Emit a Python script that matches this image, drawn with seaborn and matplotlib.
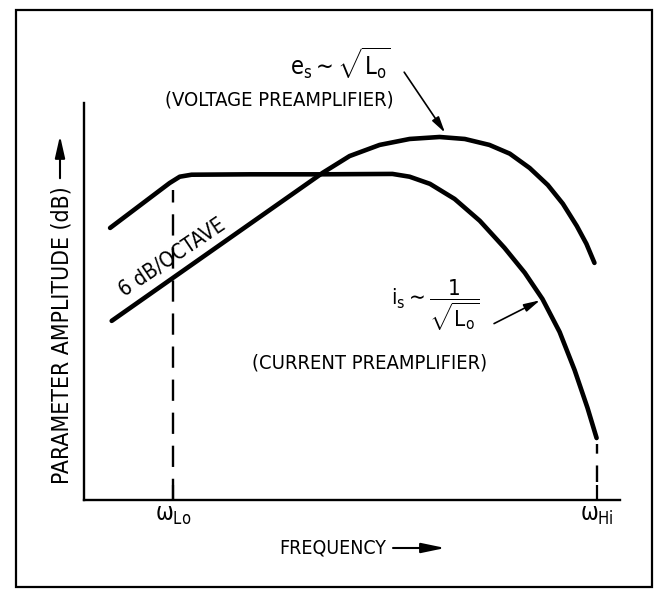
import numpy as np
import pandas as pd
import seaborn as sns
import matplotlib.pyplot as plt
from matplotlib.patches import Rectangle

# values (arbitrary frequency / dB units)
freq_current = [0.49, 1.60, 1.79, 2.01, 3.10, 4.40, 5.76, 6.08, 6.46, 6.92, 7.39, 7.85, 8.23,
                8.56, 8.88, 9.16, 9.40, 9.57]
amp_current = [6.85, 7.98, 8.14, 8.19, 8.20, 8.20, 8.21, 8.14, 7.96, 7.58, 7.03, 6.35, 5.72,
               5.06, 4.23, 3.27, 2.32, 1.56]

freq_voltage = [0.52, 4.46, 4.96, 5.52, 6.08, 6.64, 7.11, 7.57, 7.95, 8.32, 8.66, 8.94, 9.20, 9.38, 9.53]
amp_voltage = [4.51, 8.24, 8.66, 8.94, 9.09, 9.14, 9.09, 8.94, 8.72, 8.36, 7.93, 7.46, 6.90, 6.45, 5.97]

w_lo = 1.66
w_hi = 9.57
tick_pos = [w_lo, w_hi]
tick_labels = [r'$\omega_{\mathrm{Lo}}$', r'$\omega_{\mathrm{Hi}}$']

df = pd.concat([
    pd.DataFrame({'freq': freq_current, 'amp': amp_current, 'pre': 'current'}),
    pd.DataFrame({'freq': freq_voltage, 'amp': amp_voltage, 'pre': 'voltage'}),
])

sns.set_theme(style='white')
plt.rcParams['font.family'] = ['DejaVu Sans']
plt.rcParams['font.stretch'] = 'condensed'
plt.rcParams['text.color'] = 'black'
plt.rcParams['mathtext.fontset'] = 'custom'
plt.rcParams['mathtext.rm'] = 'DejaVu Sans'
plt.rcParams['mathtext.it'] = 'DejaVu Sans'
plt.rcParams['mathtext.bf'] = 'DejaVu Sans'
fs = 14.5

fig = plt.figure(figsize=(6.55, 5.91), dpi=100)
ax = fig.add_axes([0.128, 0.154, 0.818, 0.672])

sns.lineplot(data=df, x='freq', y='amp', units='pre', estimator=None, sort=False,
             color='black', lw=3.3, ax=ax, legend=False)
for l in ax.lines:
    l.set_solid_capstyle('round')
    l.set_solid_joinstyle('round')

# dashed markers at the corner frequencies
ax.plot([w_lo, w_lo], [0, 7.8], color='black', lw=1.7, ls=(0, (9, 5)))
ax.plot([w_hi, w_hi], [0.45, amp_current[-1] - 0.15], color='black', lw=1.7, ls=(0, (7, 5)))

ax.set_xlim(0, 10)
ax.set_ylim(0, 10)
ax.set_xticks(tick_pos)
ax.set_xticklabels(tick_labels, fontsize=17)
ax.set_yticks([])
ax.tick_params(axis='x', direction='in', length=11, width=1.6, color='black', pad=2,
               bottom=True, labelcolor='black')
ax.set_xlabel('')
ax.set_ylabel('')
for s in ['top', 'right']:
    ax.spines[s].set_visible(False)
for s in ['left', 'bottom']:
    ax.spines[s].set_color('black')
    ax.spines[s].set_linewidth(1.7)

# annotations
ax.text(4.79, 11.0, r'$\mathrm{e_s}\sim\sqrt{\mathrm{L_o}}$', fontsize=17, ha='center', va='center')
ax.text(3.64, 10.08, '(VOLTAGE PREAMPLIFIER)', fontsize=fs, ha='center', va='center')
ax.annotate('', xy=(6.77, 9.19), xytext=(5.95, 10.83),
            arrowprops=dict(arrowstyle='-|>,head_length=0.8,head_width=0.2', color='black', lw=1.2))

ax.text(6.55, 4.91, r'$\mathrm{i_s}\sim\dfrac{1}{\sqrt{\mathrm{L_o}}}$', fontsize=16, ha='center', va='center')
ax.text(5.33, 3.45, '(CURRENT PREAMPLIFIER)', fontsize=fs, ha='center', va='center')
ax.annotate('', xy=(8.56, 5.06), xytext=(7.61, 4.41),
            arrowprops=dict(arrowstyle='-|>,head_length=0.8,head_width=0.2', color='black', lw=1.2))

ax.text(1.64, 6.12, '6 dB/OCTAVE', fontsize=15, ha='center', va='center', rotation=34,
        rotation_mode='anchor')

# axis labels with arrows
fig.text(333 / 655, 1 - 548 / 591, 'FREQUENCY', fontsize=14, ha='center', va='center')
fig.add_artist(plt.Line2D([393 / 655, 425 / 655], [1 - 548 / 591] * 2, color='black', lw=1.5))
ax.annotate('', xy=(448, 591 - 548), xytext=(420, 591 - 548), xycoords='figure pixels',
            arrowprops=dict(arrowstyle='-|>,head_length=1.2,head_width=0.25', color='black', lw=1.5))

fig.text(62 / 655, 1 - 335 / 591, 'PARAMETER AMPLITUDE (dB)', fontsize=16.5, rotation=90,
         ha='center', va='center')
ax.annotate('', xy=(60, 591 - 133), xytext=(60, 591 - 181), xycoords='figure pixels',
            arrowprops=dict(arrowstyle='-|>,head_length=1.1,head_width=0.25', color='black', lw=1.5))

# frame around the whole picture
fig.add_artist(Rectangle((16 / 655, 1 - 587 / 591), 636 / 655, 577 / 591, transform=fig.transFigure,
                         fill=False, ec='black', lw=1.6))

fig.savefig('out.png', dpi=100, facecolor='white')
